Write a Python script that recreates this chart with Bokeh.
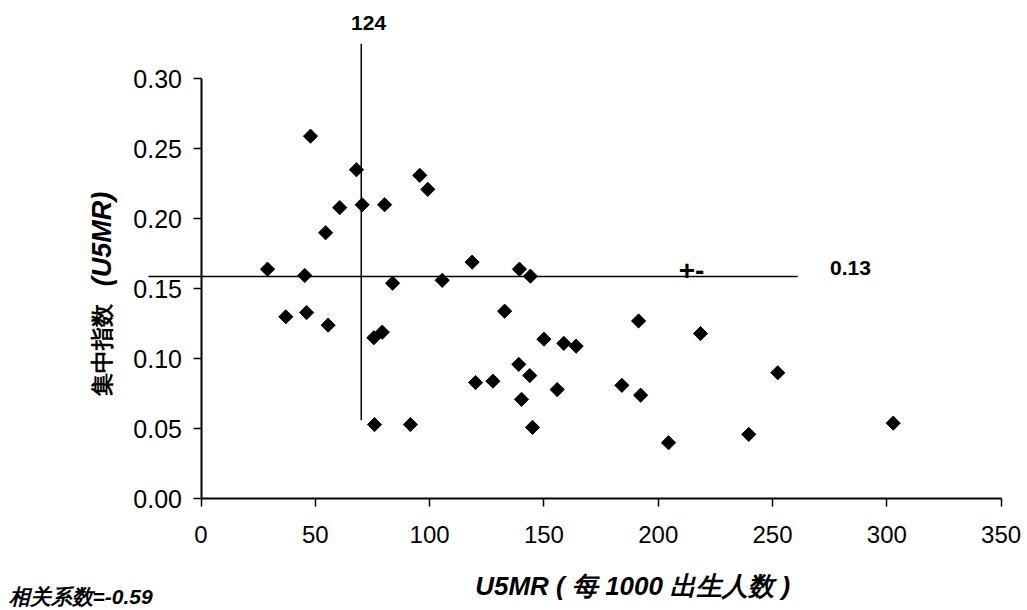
import math
from bokeh.plotting import figure
from bokeh.models import Label, FixedTicker, Range1d, PrintfTickFormatter
from bokeh.embed import file_html
from bokeh.resources import INLINE

# ---- data ----
u5mr = [47.9, 68.0, 95.7, 99.2, 60.7, 70.5, 80.3, 54.5, 29.1, 45.4,
        118.6, 139.3, 144.1, 83.8, 105.5, 37.1, 46.2, 55.6, 75.6, 79.3,
        132.8, 150.0, 158.7, 164.1, 139.0, 143.8, 120.1, 127.7, 155.8, 140.2,
        75.9, 91.6, 145.0, 191.4, 218.5, 252.3, 184.1, 192.3, 204.5, 239.6,
        302.8]
conc_index = [0.259, 0.235, 0.231, 0.221, 0.208, 0.210, 0.210, 0.190, 0.164, 0.1595,
              0.169, 0.164, 0.159, 0.154, 0.156, 0.130, 0.133, 0.124, 0.115, 0.119,
              0.134, 0.114, 0.111, 0.109, 0.096, 0.088, 0.083, 0.084, 0.078, 0.071,
              0.053, 0.053, 0.051, 0.127, 0.118, 0.090, 0.081, 0.074, 0.040, 0.046,
              0.054]

x_ticks = [0, 50, 100, 150, 200, 250, 300, 350]
y_ticks = [0.0, 0.05, 0.10, 0.15, 0.20, 0.25, 0.30]

# reference lines
h_line_x = [-23, 261]
h_line_y = [0.1588, 0.1588]
v_line_x = [70.1, 70.1]
v_line_y = [0.056, 0.325]

x_title = "U5MR ( 每 1000 出生人数 )"
y_title_cjk = "集中指数"
y_title_lat = "(U5MR)"
corr_text = "相关系数=-0.59"
v_line_label = "124"
h_line_label = "0.13"
sign_label = "+-"

FONT = "Liberation Sans"

p = figure(width=1026, height=609, title=None,
           x_range=Range1d(-87.71, 361.1), y_range=Range1d(-0.0791, 0.3559),
           output_backend="svg", toolbar_location=None,
           min_border_left=0, min_border_right=0,
           min_border_top=0, min_border_bottom=0)
p.outline_line_color = None
p.xgrid.visible = False
p.ygrid.visible = False
p.background_fill_color = "white"
p.border_fill_color = "white"

# x axis (placed at y = 0)
xa = p.xaxis[0]
xa.fixed_location = 0
xa.ticker = FixedTicker(ticks=x_ticks)
xa.bounds = (0, 350)
xa.axis_line_width = 2
xa.axis_line_color = "black"
xa.major_tick_line_width = 1.5
xa.major_tick_line_color = "black"
xa.major_tick_out = 8
xa.major_tick_in = 0
xa.minor_tick_out = 0
xa.minor_tick_in = 0
xa.major_label_standoff = 19
xa.major_label_text_font = FONT
xa.major_label_text_font_size = "24px"
xa.major_label_text_color = "black"

# y axis (placed at x = 0)
ya = p.yaxis[0]
ya.fixed_location = 0
ya.ticker = FixedTicker(ticks=y_ticks)
ya.bounds = (0, 0.30)
ya.formatter = PrintfTickFormatter(format="%.2f")
ya.axis_line_width = 2
ya.axis_line_color = "black"
ya.major_tick_line_width = 1.5
ya.major_tick_line_color = "black"
ya.major_tick_out = 8
ya.major_tick_in = 0
ya.minor_tick_out = 0
ya.minor_tick_in = 0
ya.major_label_standoff = 11
ya.major_label_text_font = FONT
ya.major_label_text_font_size = "25px"
ya.major_label_text_color = "black"

# reference lines
p.line(h_line_x, h_line_y, line_color="black", line_width=1.5)
p.line(v_line_x, v_line_y, line_color="black", line_width=1.5)

# points
p.scatter(u5mr, conc_index, marker="square", angle=math.pi / 4, size=10,
          fill_color="black", line_color="black")

# annotations
p.add_layout(Label(x=73.3, y=0.3395, text=v_line_label, text_align="center",
                   text_baseline="middle", text_font=FONT, text_font_size="21px",
                   text_font_style="bold", text_color="black"))
p.add_layout(Label(x=284.1, y=0.1645, text=h_line_label, text_align="center",
                   text_baseline="middle", text_font=FONT, text_font_size="21px",
                   text_font_style="bold", text_color="black"))
p.add_layout(Label(x=214.6, y=0.163, text=sign_label, text_align="center",
                   text_baseline="middle", text_font=FONT, text_font_size="28px",
                   text_font_style="bold", text_color="black"))

# axis titles
p.add_layout(Label(x=188.8, y=-0.0626, text=x_title, text_align="center",
                   text_baseline="middle", text_font=FONT, text_font_size="26px",
                   text_font_style="bold italic", text_color="black"))
p.add_layout(Label(x=-43.5, y=0.1065, text=y_title_cjk, angle=math.pi / 2,
                   text_align="center", text_baseline="middle", text_font=FONT,
                   text_font_size="23px", text_font_style="bold", text_color="black"))
p.add_layout(Label(x=-43.5, y=0.1855, text=y_title_lat, angle=math.pi / 2,
                   text_align="center", text_baseline="middle", text_font=FONT,
                   text_font_size="27px", text_font_style="bold italic", text_color="black"))
p.add_layout(Label(x=-84.2, y=-0.0698, text=corr_text, text_align="left",
                   text_baseline="middle", text_font=FONT, text_font_size="21px",
                   text_font_style="bold italic", text_color="black"))

open("out.html", "w").write(file_html(p, INLINE))
